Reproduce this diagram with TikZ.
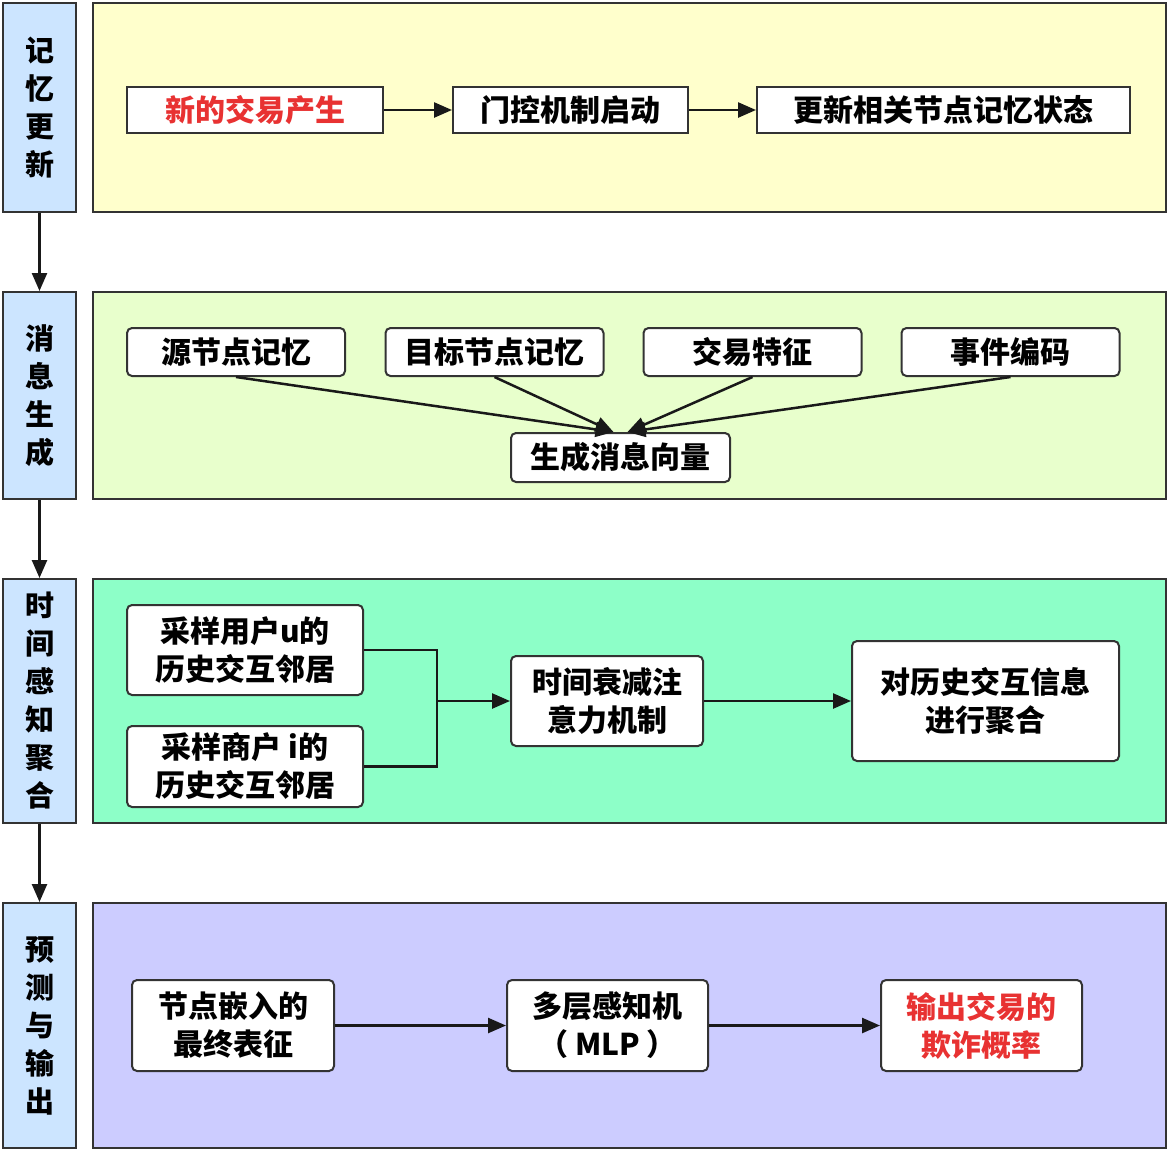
\documentclass[tikz,border=0pt]{standalone}
\usepackage{fontspec}
\setmainfont{Noto Sans CJK SC}
\usetikzlibrary{arrows.meta,calc}
\definecolor{labelblue}{HTML}{CCE5FF}
\definecolor{pyellow}{HTML}{FFFFCC}
\definecolor{pgreen}{HTML}{E8FFCC}
\definecolor{pmint}{HTML}{8DFFC8}
\definecolor{ppurple}{HTML}{CCCCFF}
\definecolor{redtext}{HTML}{E83232}
\definecolor{edge}{HTML}{333333}
\begin{document}
\begin{tikzpicture}[x=1pt,y=-1pt,
  lbl/.style={draw=edge,line width=2pt,fill=labelblue,minimum width=73pt,inner sep=0pt,align=center,font=\fontsize{29}{38}\selectfont\bfseries},
  panel/.style={draw=edge,line width=2pt,minimum width=1073pt,inner sep=0pt},
  sbox/.style={draw=edge,line width=2pt,fill=white,inner sep=0pt,align=center,font=\fontsize{30}{38}\selectfont\bfseries},
  rbox/.style={sbox,rounded corners=5pt},
  conn/.style={line width=2.5pt,draw=black!90},
  arr/.style={conn,-{Triangle[length=18pt,width=15pt]}}
]
\useasboundingbox (0,0) rectangle (1169,1152);

% panels
\node[panel,fill=pyellow,minimum height=209pt] (P1) at (629.5,107.5) {};
\node[panel,fill=pgreen,minimum height=207pt] (P2) at (629.5,395.5) {};
\node[panel,fill=pmint,minimum height=244pt] (P3) at (629.5,701) {};
\node[panel,fill=ppurple,minimum height=245pt] (P4) at (629.5,1025.5) {};

% left labels
\node[lbl,minimum height=209pt] (L1) at (39.5,107.5) {记\\忆\\更\\新};
\node[lbl,minimum height=207pt] (L2) at (39.5,395.5) {消\\息\\生\\成};
\node[lbl,minimum height=244pt] (L3) at (39.5,701) {时\\间\\感\\知\\聚\\合};
\node[lbl,minimum height=245pt] (L4) at (39.5,1025.5) {预\\测\\与\\输\\出};
\draw[arr] (L1.south) -- (L2.north);
\draw[arr] (L2.south) -- (L3.north);
\draw[arr] (L3.south) -- (L4.north);

% row 1
\node[sbox,minimum width=256pt,minimum height=46pt,text=redtext] (a1) at (255,110) {新的交易产生};
\node[sbox,minimum width=235pt,minimum height=46pt] (a2) at (570.5,110) {门控机制启动};
\node[sbox,minimum width=373pt,minimum height=46pt] (a3) at (943.5,110) {更新相关节点记忆状态};
\draw[arr] (a1) -- (a2);
\draw[arr] (a2) -- (a3);

% row 2
\node[rbox,minimum width=218pt,minimum height=48pt] (b1) at (236,352) {源节点记忆};
\node[rbox,minimum width=218pt,minimum height=48pt] (b2) at (494.5,352) {目标节点记忆};
\node[rbox,minimum width=218pt,minimum height=48pt] (b3) at (752.5,352) {交易特征};
\node[rbox,minimum width=218pt,minimum height=48pt] (b4) at (1010.5,352) {事件编码};
\node[rbox,minimum width=219pt,minimum height=49pt] (g) at (620.5,457.5) {生成消息向量};
\draw[arr] (b1.south) -- ($(g.north)+(-7,0)$);
\draw[arr] (b2.south) -- ($(g.north)+(-7,0)$);
\draw[arr] (b3.south) -- ($(g.north)+(7,0)$);
\draw[arr] (b4.south) -- ($(g.north)+(7,0)$);

% row 3
\node[rbox,minimum width=236pt,minimum height=90pt] (c1) at (245,650) {采样用户u的\\历史交互邻居};
\node[rbox,minimum width=236pt,minimum height=81pt] (c2) at (245,766.5) {采样商户 i的\\历史交互邻居};
\node[rbox,minimum width=192pt,minimum height=90pt] (c3) at (607,701) {时间衰减注\\意力机制};
\node[rbox,minimum width=267pt,minimum height=120pt] (c4) at (985.5,701) {对历史交互信息\\进行聚合};
\coordinate (j) at (437,701);
\draw[conn] (c1.east) -| (j);
\draw[conn] (c2.east) -| (j);
\draw[arr] (j) -- (c3.west);
\draw[arr] (c3) -- (c4);

% row 4
\node[rbox,minimum width=202pt,minimum height=91pt] (d1) at (233,1025.5) {节点嵌入的\\最终表征};
\node[rbox,minimum width=201pt,minimum height=91pt] (d2) at (607.5,1025.5) {多层感知机\\（ MLP ）};
\node[rbox,minimum width=201pt,minimum height=91pt,text=redtext] (d3) at (981.5,1025.5) {输出交易的\\欺诈概率};
\draw[arr] (d1) -- (d2);
\draw[arr] (d2) -- (d3);
\end{tikzpicture}
\end{document}
